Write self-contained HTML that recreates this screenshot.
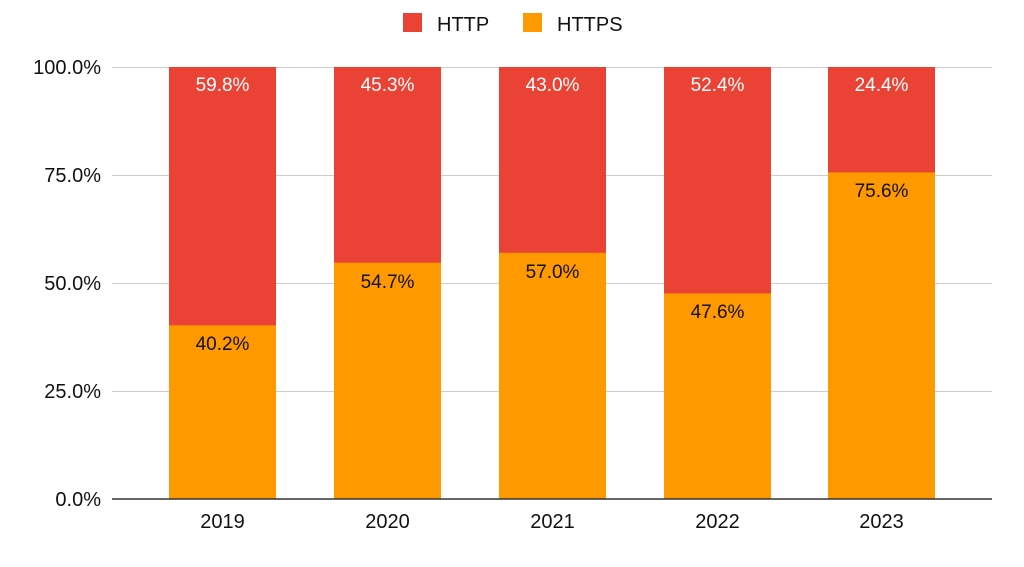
<!DOCTYPE html>
<html><head><meta charset="utf-8"><style>
body{margin:0;background:#fff;width:1024px;height:562px;overflow:hidden}
svg text{font-family:"Liberation Sans",Arial,sans-serif}
</style></head><body>
<svg width="1024" height="562" xmlns="http://www.w3.org/2000/svg">
<rect width="1024" height="562" fill="#fff"/>
<rect x="403" y="13" width="19" height="19" fill="#EA4335"/>
<text x="437" y="31" font-size="20" fill="#111">HTTP</text>
<rect x="523" y="13" width="19" height="19" fill="#FF9900"/>
<text x="557" y="31" font-size="20" fill="#111">HTTPS</text>
<g stroke="#ccc" stroke-width="1">
<line x1="112" y1="67.5" x2="992" y2="67.5"/>
<line x1="112" y1="175.5" x2="992" y2="175.5"/>
<line x1="112" y1="283.5" x2="992" y2="283.5"/>
<line x1="112" y1="391.5" x2="992" y2="391.5"/>
</g>
<g font-size="20" fill="#111" text-anchor="end">
<text x="101" y="74">100.0%</text>
<text x="101" y="182">75.0%</text>
<text x="101" y="290">50.0%</text>
<text x="101" y="398">25.0%</text>
<text x="101" y="506">0.0%</text>
</g>
<g>
<rect x="169" y="67" width="107" height="259" fill="#EA4335"/><rect x="169" y="325.3" width="107" height="173.7" fill="#FF9900"/>
<rect x="334" y="67" width="107" height="196" fill="#EA4335"/><rect x="334" y="262.7" width="107" height="236.3" fill="#FF9900"/>
<rect x="499" y="67" width="107" height="186" fill="#EA4335"/><rect x="499" y="252.8" width="107" height="246.2" fill="#FF9900"/>
<rect x="664" y="67" width="107" height="227" fill="#EA4335"/><rect x="664" y="293.4" width="107" height="205.6" fill="#FF9900"/>
<rect x="828" y="67" width="107" height="106" fill="#EA4335"/><rect x="828" y="172.4" width="107" height="326.6" fill="#FF9900"/>
</g>
<g font-size="19" fill="#fff" text-anchor="middle">
<text x="222.5" y="91">59.8%</text><text x="387.5" y="91">45.3%</text><text x="552.5" y="91">43.0%</text><text x="717.5" y="91">52.4%</text><text x="881.5" y="91">24.4%</text>
</g>
<g font-size="19" fill="#111" text-anchor="middle">
<text x="222.5" y="350">40.2%</text><text x="387.5" y="288">54.7%</text><text x="552.5" y="278">57.0%</text><text x="717.5" y="318">47.6%</text><text x="881.5" y="197">75.6%</text>
</g>
<line x1="112" y1="499" x2="992" y2="499" stroke="#333" stroke-width="1.5"/>
<g font-size="20" fill="#111" text-anchor="middle">
<text x="222.5" y="528">2019</text><text x="387.5" y="528">2020</text><text x="552.5" y="528">2021</text><text x="717.5" y="528">2022</text><text x="881.5" y="528">2023</text>
</g>
</svg>
</body></html>
